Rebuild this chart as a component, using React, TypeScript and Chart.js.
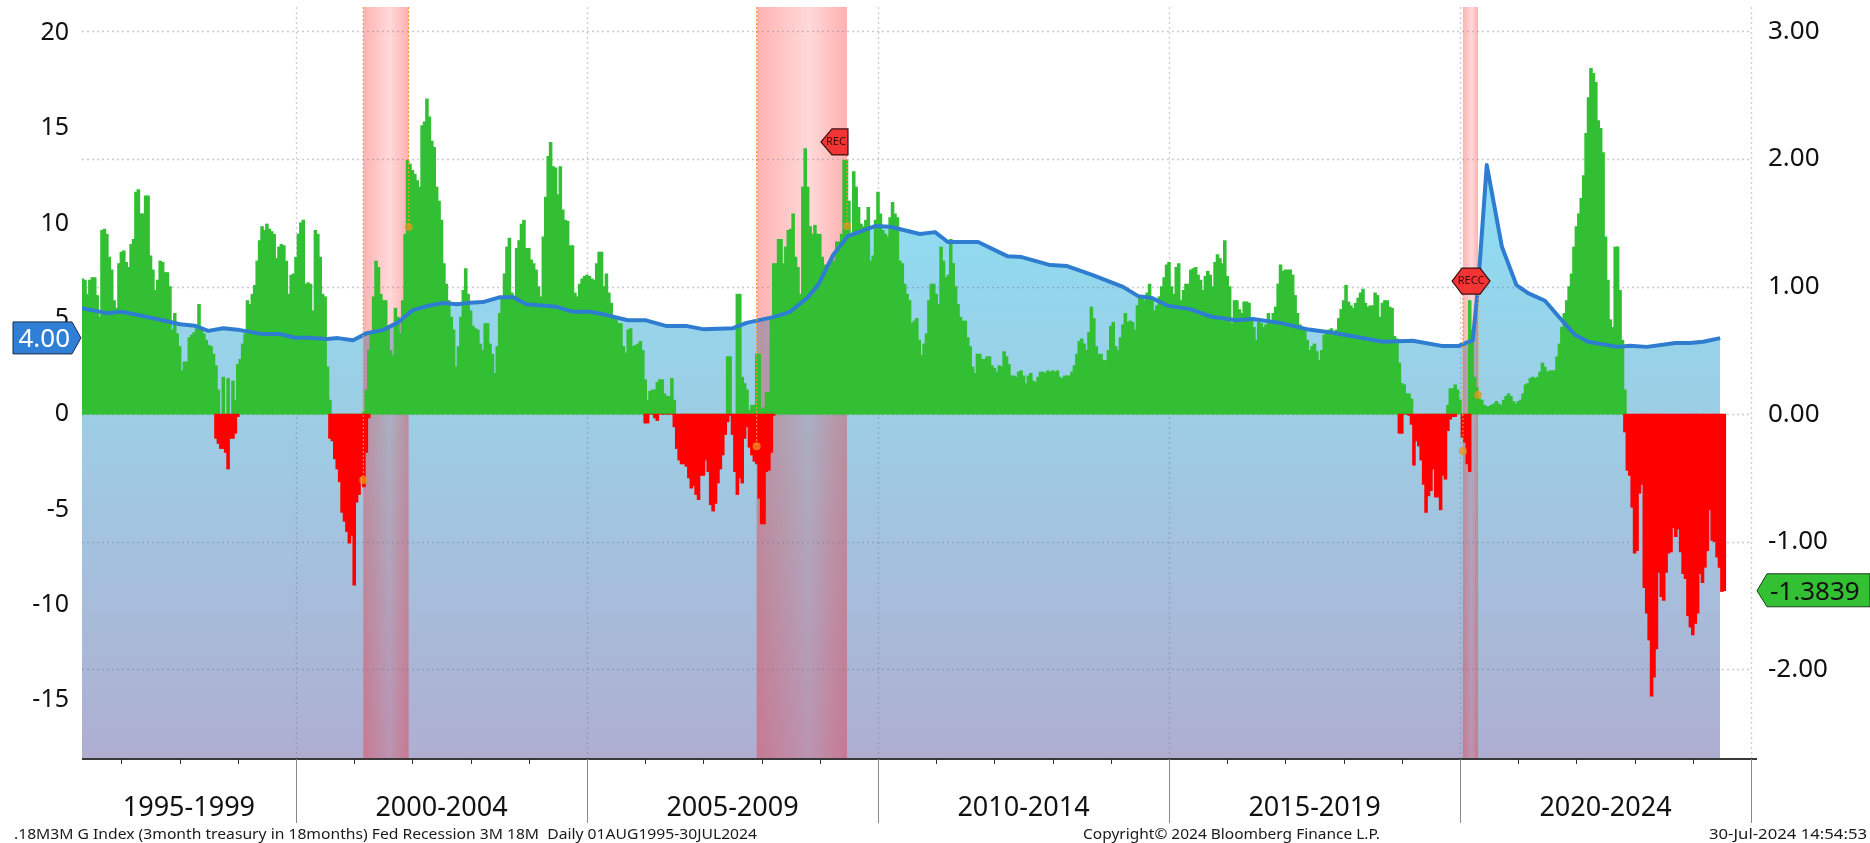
import React, { useEffect, useRef } from "react";
import { Chart, registerables } from "chart.js";

Chart.register(...registerables);

// ---------- half-monthly readings, right axis ----------
const firstPeriod = 1996 + 4 / 12;
const periodsPerYear = 24;
const positive1996 = [1.06, 1.05, 0.94, 1.05, 1.07, 1.07, 0.93, 0.76, 1.44, 1.45, 1.41, 1.23, 1.13, 0.89, 0.83, 1.18];
const positive1997 = [1.27, 1.28, 1.19, 1.15, 1.33, 1.37, 1.74, 1.76, 1.57, 1.57, 1.71, 1.71, 1.24, 1.13, 0.97, 1.05, 1.2, 1.19, 1.11, 1.11, 1.0, 0.66, 0.79, 0.63];
const positive1998 = [0.53, 0.34, 0.41, 0.41, 0.6, 0.62, 0.64, 0.67, 0.86, 0.67, 0.63, 0.58, 0.54, 0.53, 0.47, 0.38, 0.19, 0, 0.29, 0, 0.28, 0, 0.26, 0.11];
const positive1999 = [0.39, 0.43, 0.55, 0.63, 0.89, 0.86, 0.94, 1.01, 1.2, 1.36, 1.47, 1.44, 1.49, 1.45, 1.43, 1.41, 1.22, 1.31, 1.33, 1.32, 1.2, 0.94, 1.09, 1.1];
const positive2000 = [1.23, 1.41, 1.5, 1.52, 1.02, 1.03, 1.02, 0.81, 1.44, 1.41, 1.23, 0.94, 0.92, 0.37, 0.11, 0, 0, 0, 0, 0, 0, 0, 0, 0];
const positive2001 = [0, 0, 0, 0, 0.02, 0.19, 0.5, 0.63, 0.92, 1.2, 1.15, 0.94, 0.89, 0.89, 0.68, 0.5, 0.46, 0.83, 0.76, 0.63, 0.89, 1.41, 1.99, 1.96];
const positive2002 = [1.91, 1.88, 1.83, 1.78, 2.26, 2.29, 2.47, 2.33, 2.14, 2.09, 1.78, 1.67, 1.52, 1.18, 1.02, 0.89, 0.76, 0.66, 0.37, 0.53, 0.76, 0.97, 1.14, 0.94];
const positive2003 = [0.81, 0.69, 0.67, 0.66, 0.55, 0.5, 0.71, 0.71, 0.55, 0.47, 0.32, 0.53, 0.79, 0.92, 1.1, 1.31, 1.38, 0.95, 0.92, 1.3, 1.36, 1.49, 1.52, 1.3];
const positive2004 = [1.3, 1.21, 1.18, 1.13, 1.0, 0.92, 1.39, 1.7, 2.02, 2.13, 1.94, 1.93, 1.72, 1.94, 1.6, 1.52, 1.51, 1.32, 1.32, 0.95, 0.92, 1.02, 1.06, 1.08];
const positive2005 = [1.09, 1.08, 1.06, 1.05, 1.18, 1.27, 1.27, 1.0, 1.1, 0.95, 0.87, 0.76, 0.74, 0.71, 0.71, 0.53, 0.48, 0.66, 0.67, 0.53, 0.54, 0.55, 0.57, 0.5];
const positive2006 = [0.27, 0.11, 0.18, 0.19, 0.19, 0.25, 0.27, 0.27, 0.16, 0.14, 0.14, 0.28, 0.11, 0, 0, 0, 0, 0, 0, 0, 0, 0, 0, 0];
const positive2007 = [0, 0, 0, 0, 0, 0, 0, 0, 0, 0, 0.45, 0.45, 0, 0, 0.94, 0.94, 0.29, 0.24, 0.19, 0.03, 0.07, 0.07, 0.47, 0.47];
const positive2008 = [0.04, 0.05, 0.17, 0.17, 0.76, 1.18, 1.18, 1.37, 1.37, 1.18, 1.31, 1.44, 1.45, 1.57, 1.23, 1.15, 0.94, 1.78, 2.08, 1.78, 1.47, 1.41, 1.48, 1.41];
const positive2009 = [1.41, 1.23, 1.17, 1.15, 1.15, 1.2, 1.2, 1.35, 1.35, 1.41, 1.99, 1.99, 1.67, 1.41, 1.9, 1.78, 1.62, 1.49, 1.47, 1.52, 1.62, 1.2, 1.24, 1.52];
const positive2010 = [1.74, 1.57, 1.44, 1.41, 1.39, 1.54, 1.66, 1.57, 1.54, 1.2, 1.18, 1.02, 0.94, 0.89, 0.71, 0.73, 0.75, 0.58, 0.46, 0.55, 0.63, 0.89, 1.02, 1.02];
const positive2011 = [0.94, 0.86, 1.31, 1.2, 1.07, 1.09, 1.37, 1.18, 1.0, 0.86, 0.76, 0.73, 0.73, 0.6, 0.53, 0.37, 0.32, 0.47, 0.47, 0.43, 0.43, 0.45, 0.45, 0.38];
const positive2012 = [0.36, 0.33, 0.38, 0.37, 0.49, 0.45, 0.39, 0.3, 0.3, 0.29, 0.33, 0.34, 0.3, 0.24, 0.3, 0.32, 0.26, 0.25, 0.29, 0.33, 0.33, 0.32, 0.34, 0.33];
const positive2013 = [0.34, 0.33, 0.34, 0.29, 0.28, 0.3, 0.3, 0.3, 0.33, 0.38, 0.47, 0.57, 0.59, 0.55, 0.5, 0.64, 0.84, 0.75, 0.53, 0.47, 0.47, 0.42, 0.42, 0.5];
const positive2014 = [0.69, 0.72, 0.53, 0.5, 0.6, 0.7, 0.79, 0.72, 0.73, 0.72, 0.66, 0.85, 0.93, 0.9, 0.89, 0.95, 1.02, 0.9, 0.81, 0.85, 0.92, 1.0, 1.07, 1.17];
const positive2015 = [1.19, 1.0, 0.94, 1.15, 1.18, 0.89, 0.97, 1.02, 1.02, 1.13, 1.14, 1.15, 1.09, 1.05, 0.97, 1.08, 1.12, 1.09, 1.0, 1.19, 1.25, 1.22, 1.18, 1.36];
const positive2016 = [1.08, 1.0, 0.71, 0.89, 0.89, 0.82, 0.79, 0.88, 0.88, 0.87, 0.75, 0.68, 0.58, 0.72, 0.71, 0.68, 0.7, 0.79, 0.71, 0.79, 0.84, 1.02, 1.17, 1.12];
const positive2017 = [1.13, 1.13, 1.13, 1.09, 0.93, 0.79, 0.7, 0.68, 0.68, 0.58, 0.5, 0.53, 0.55, 0.49, 0.42, 0.5, 0.62, 0.65, 0.66, 0.67, 0.62, 0.66, 0.75, 0.82];
const positive2018 = [0.89, 1.01, 0.88, 0.85, 0.83, 0.87, 0.91, 0.95, 0.98, 0.87, 0.84, 0.85, 0.85, 0.95, 0.93, 0.76, 0.87, 0.89, 0.89, 0.84, 0.83, 0.61, 0.59, 0.4];
const positive2019 = [0.24, 0.23, 0.16, 0.16, 0.12, 0, 0, 0, 0, 0, 0, 0, 0, 0, 0, 0, 0, 0, 0, 0.07, 0.2, 0.2, 0.23, 0.19];
const positive2020 = [0.11, 0, 0, 0, 0.89, 0.66, 0.29, 0.21, 0.12, 0.11, 0.07, 0.06, 0.06, 0.07, 0.08, 0.1, 0.08, 0.07, 0.11, 0.14, 0.16, 0.14, 0.1, 0.08];
const positive2021 = [0.1, 0.11, 0.16, 0.23, 0.24, 0.28, 0.29, 0.28, 0.29, 0.33, 0.4, 0.37, 0.33, 0.34, 0.34, 0.34, 0.45, 0.55, 0.68, 0.79, 0.89, 1.0, 1.1, 1.31];
const positive2022 = [1.47, 1.57, 1.69, 1.87, 2.2, 2.48, 2.71, 2.67, 2.6, 2.3, 2.24, 2.05, 1.39, 1.05, 0.74, 0.68, 1.31, 1.31, 0.97, 0.58, 0.19];

// each stretch of negative readings: index of its first half-month, then the readings
const negative1998 = [-0.19, -0.23, -0.27, -0.27, -0.3, -0.43, -0.19, -0.19, -0.15, -0.02];
const negative2000 = [-0.19, -0.21, -0.35, -0.43, -0.53, -0.77, -0.84, -0.92, -1.01, -0.95, -1.34, -0.69, -0.63, -0.49, -0.57, -0.3, -0.03];
const negative2006 = [-0.07, -0.07, 0, 0, -0.03, -0.05, 0, 0, 0, 0, 0, 0, -0.1, -0.27, -0.36, -0.39, -0.39, -0.41, -0.5, -0.58, -0.56, -0.63, -0.67, -0.48];
const negative2007 = [-0.48, -0.36, -0.45, -0.71, -0.76, -0.7, -0.54, -0.43, -0.32, -0.16, -0.06, -0.01, -0.16, -0.45, -0.63, -0.5, -0.54, -0.19, -0.1, -0.26, -0.32, -0.37, -0.39, -0.66];
const negative2008 = [-0.86, -0.86, -0.45, -0.44, -0.3, -0.01];
const negative2019 = [-0.15, -0.15, 0, 0, -0.01, -0.08, -0.4, -0.21, -0.25, -0.36, -0.55, -0.77, -0.64, -0.6, -0.43, -0.65, -0.65, -0.75, -0.48, -0.51, -0.13, -0.04, -0.02, -0.02];
const negative2020 = [-0.18, -0.22, -0.39, -0.45];
const negative2022 = [-0.14, -0.44, -0.48, -0.73];
const negative2023 = [-1.09, -1.07, -0.62, -0.55, -1.36, -1.56, -1.77, -2.21, -2.06, -1.84, -1.24, -1.43, -1.46, -1.24, -1.09, -1.08, -0.89, -0.96, -0.9, -1.08, -1.25, -1.29, -1.58, -1.67];
const negative2024 = [-1.73, -1.64, -1.56, -1.25, -1.32, -1.2, -1.07, -0.75, -0.99, -1.0, -1.12, -1.2, -1.39, -1.3839];

const negativeStretches: [number, number[]][] = [
  [55, negative1998], [102, negative2000], [232, negative2006], [256, negative2007],
  [280, negative2008], [543, negative2019], [569, negative2020], [636, negative2022],
  [640, negative2023], [664, negative2024],
];

const positivePeriods = [
  ...positive1996, ...positive1997, ...positive1998, ...positive1999, ...positive2000,
  ...positive2001, ...positive2002, ...positive2003, ...positive2004, ...positive2005,
  ...positive2006, ...positive2007, ...positive2008, ...positive2009, ...positive2010,
  ...positive2011, ...positive2012, ...positive2013, ...positive2014, ...positive2015,
  ...positive2016, ...positive2017, ...positive2018, ...positive2019, ...positive2020,
  ...positive2021, ...positive2022,
];

// ---------- blue line, left axis ----------
const lineYears = [
  1996.32, 1996.75, 1997.01, 1997.61, 1998.01, 1998.26, 1998.49, 1998.75, 1999.04, 1999.43, 1999.73,
  1999.98, 2000.21, 2000.53, 2000.72, 2000.98, 2001.22, 2001.49, 2001.74, 2002.01, 2002.25, 2002.53,
  2002.77, 2002.99, 2003.21, 2003.51, 2003.73, 2003.96, 2004.48, 2004.76, 2005.05, 2005.27, 2005.7,
  2006.0, 2006.37, 2006.72, 2006.99, 2007.51, 2007.74, 2008.2, 2008.49, 2008.78, 2008.97, 2009.23,
  2009.48, 2009.69, 2009.95, 2010.21, 2010.72, 2010.98, 2011.2, 2011.72, 2012.22, 2012.47, 2012.96,
  2013.25, 2013.69, 2014.21, 2014.47, 2014.71, 2014.98, 2015.36, 2015.73, 2016.16, 2016.44, 2016.91,
  2017.37, 2017.82, 2018.68, 2019.19, 2019.71, 2019.97, 2020.22, 2020.31, 2020.46, 2020.72, 2020.97,
  2021.17, 2021.46, 2021.75, 2021.98, 2022.2, 2022.71, 2022.92, 2023.21, 2023.7, 2023.95, 2024.18, 2024.47,
];
const lineValues = [
  5.56, 5.3, 5.37, 4.99, 4.72, 4.64, 4.37, 4.51, 4.41, 4.2, 4.2,
  4.01, 4.01, 3.94, 3.99, 3.88, 4.25, 4.41, 4.79, 5.46, 5.67, 5.83,
  5.77, 5.84, 5.88, 6.14, 6.14, 5.77, 5.63, 5.37, 5.37, 5.25, 4.93,
  4.93, 4.62, 4.62, 4.46, 4.51, 4.79, 5.09, 5.37, 6.09, 6.77, 8.35,
  9.34, 9.57, 9.87, 9.83, 9.45, 9.55, 9.03, 9.03, 8.29, 8.24, 7.82,
  7.77, 7.3, 6.68, 6.19, 6.09, 5.69, 5.51, 5.11, 4.93, 4.99, 4.79,
  4.46, 4.27, 3.8, 3.85, 3.57, 3.57, 3.88, 6.68, 13.07, 8.78, 6.77,
  6.35, 5.95, 4.93, 4.15, 3.8, 3.53, 3.59, 3.53, 3.73, 3.73, 3.8, 3.99,
];

// ---------- recessions and signals ----------
const recessionStarts = [2001.157, 2007.915, 2020.05];
const recessionEnds = [2001.935, 2009.467, 2020.31];
const signalYears = [2001.157, 2001.935, 2007.915, 2009.467, 2020.05, 2020.31];
const signalValues = [-3.46, 9.82, -1.68, 9.87, -1.94, 1.0];
const signalFrom = [21.36, 21.36, 21.36, 13.6, 6.3, 6.3];

// ---------- axes and text ----------
const periodLabels = ["1995-1999", "2000-2004", "2005-2009", "2010-2014", "2015-2019", "2020-2024"];
const periodCentres = [1998.16, 2002.5, 2007.5, 2012.5, 2017.5, 2022.5];
const periodEdges = [2000, 2005, 2010, 2015, 2020, 2025];
const yearMarks = [1997, 1998, 1999, 2001, 2002, 2003, 2004, 2006, 2007, 2008, 2009, 2011, 2012, 2013, 2014, 2016, 2017, 2018, 2019, 2021, 2022, 2023, 2024];
const leftTickStep = 5;
const rightTickStep = 1;
const leftLabel = "4.00";
const leftLabelValue = 4;
const rightLabel = "-1.3839";
const rightLabelValue = -1.3839;
const footerLeft = ".18M3M G Index (3month treasury in 18months) Fed Recession 3M 18M  Daily 01AUG1995-30JUL2024";
const footerCentre = "Copyright\u00A9 2024 Bloomberg Finance L.P.";
const footerRight = "30-Jul-2024 14:54:53";

const periodX = (j: number) => firstPeriod + j / periodsPerYear;
const FONT = '"Noto Sans"';

const negativePeriods = new Map<number, number>();
negativeStretches.forEach(([start, vals]) => vals.forEach((v, i) => negativePeriods.set(start + i, v)));

const overlay = {
  id: "bloombergOverlay",
  beforeDatasetDraw(chart: any, args: any) {
    if (args.index !== 1) return;
    const { ctx, chartArea: a, scales } = chart;
    const x = scales.x;
    ctx.save();
    // recession bands
    recessionStarts.forEach((s, i) => {
      const l = x.getPixelForValue(s);
      const r = x.getPixelForValue(recessionEnds[i]);
      const g = ctx.createLinearGradient(l, 0, r, 0);
      g.addColorStop(0, "rgba(255,0,0,0.30)");
      g.addColorStop(0.58, "rgba(255,0,0,0.15)");
      g.addColorStop(1, "rgba(255,0,0,0.31)");
      ctx.fillStyle = g;
      ctx.fillRect(l, a.top, r - l, a.bottom - a.top);
    });
    // dotted grid
    ctx.strokeStyle = "rgba(110,110,150,0.36)";
    ctx.lineWidth = 1.3;
    ctx.setLineDash([2, 3]);
    periodEdges.forEach((e) => {
      const p = Math.round(x.getPixelForValue(e)) + 0.5;
      ctx.beginPath();
      ctx.moveTo(p, a.top);
      ctx.lineTo(p, a.bottom);
      ctx.stroke();
    });
    scales.yRight.ticks.forEach((t: any) => {
      const p = Math.round(scales.yRight.getPixelForValue(t.value)) + 0.5;
      ctx.beginPath();
      ctx.moveTo(a.left, p);
      ctx.lineTo(x.getPixelForValue(2025), p);
      ctx.stroke();
    });
    ctx.restore();
  },
  afterDatasetsDraw(chart: any) {
    const { ctx, scales } = chart;
    const x = scales.x;
    const yL = scales.yLeft;
    ctx.save();
    ctx.strokeStyle = "rgba(245,150,40,0.9)";
    ctx.lineWidth = 1.2;
    ctx.setLineDash([2, 2]);
    signalYears.forEach((s, i) => {
      const p = x.getPixelForValue(s);
      ctx.beginPath();
      ctx.moveTo(p, yL.getPixelForValue(signalFrom[i]));
      ctx.lineTo(p, yL.getPixelForValue(signalValues[i]));
      ctx.stroke();
    });
    ctx.restore();
  },
  afterDraw(chart: any) {
    const { ctx, chartArea: a, scales } = chart;
    const x = scales.x;
    const yL = scales.yLeft;
    const yR = scales.yRight;
    ctx.save();
    // x axis base
    ctx.strokeStyle = "#3a3a3a";
    ctx.lineWidth = 2;
    ctx.beginPath();
    ctx.moveTo(a.left, a.bottom);
    ctx.lineTo(a.right, a.bottom);
    ctx.stroke();
    ctx.lineWidth = 1;
    ctx.strokeStyle = "#333";
    yearMarks.forEach((yr) => {
      const p = Math.round(x.getPixelForValue(yr)) + 0.5;
      ctx.beginPath();
      ctx.moveTo(p, a.bottom);
      ctx.lineTo(p, a.bottom + 5);
      ctx.stroke();
    });
    ctx.strokeStyle = "#8a8a8a";
    periodEdges.forEach((e) => {
      const p = Math.round(x.getPixelForValue(e)) + 0.5;
      ctx.beginPath();
      ctx.moveTo(p, a.bottom);
      ctx.lineTo(p, a.bottom + 64);
      ctx.stroke();
    });

    // REC tags
    const tag = (pts: number[][], text: string, tx: number, ty: number) => {
      ctx.beginPath();
      pts.forEach(([px, py], i) => (i ? ctx.lineTo(px, py) : ctx.moveTo(px, py)));
      ctx.closePath();
      ctx.fillStyle = "#f23434";
      ctx.fill();
      ctx.strokeStyle = "#3a1010";
      ctx.lineWidth = 1.2;
      ctx.stroke();
      ctx.fillStyle = "#3c0c0c";
      ctx.font = `11px ${FONT}`;
      ctx.textAlign = "center";
      ctx.textBaseline = "middle";
      ctx.fillText(text, tx, ty);
    };
    const rx = x.getPixelForValue(recessionEnds[1]);
    const ry = yL.getPixelForValue(14.28);
    tag([[rx - 26, ry], [rx - 15, ry - 13], [rx + 1, ry - 13], [rx + 1, ry + 13], [rx - 15, ry + 13]], "REC", rx - 11, ry);
    const cx = x.getPixelForValue(2020.19);
    const cy = yL.getPixelForValue(6.98);
    tag([[cx - 19, cy], [cx - 9, cy - 13], [cx + 9, cy - 13], [cx + 19, cy], [cx + 9, cy + 13], [cx - 9, cy + 13]], "RECC", cx, cy);

    // value tags
    const ly = yL.getPixelForValue(leftLabelValue);
    ctx.beginPath();
    ctx.moveTo(13, ly - 16);
    ctx.lineTo(72, ly - 16);
    ctx.lineTo(81, ly);
    ctx.lineTo(72, ly + 16);
    ctx.lineTo(13, ly + 16);
    ctx.closePath();
    ctx.fillStyle = "#2f7fd6";
    ctx.fill();
    ctx.strokeStyle = "#1c2c44";
    ctx.lineWidth = 1;
    ctx.stroke();
    ctx.fillStyle = "#ffffff";
    ctx.font = `26px ${FONT}`;
    ctx.textAlign = "right";
    ctx.textBaseline = "middle";
    ctx.fillText(leftLabel, 70, ly + 2);

    const ry2 = yR.getPixelForValue(rightLabelValue);
    ctx.beginPath();
    ctx.moveTo(1757, ry2);
    ctx.lineTo(1767, ry2 - 17);
    ctx.lineTo(1870, ry2 - 17);
    ctx.lineTo(1870, ry2 + 16);
    ctx.lineTo(1767, ry2 + 16);
    ctx.closePath();
    ctx.fillStyle = "#33c033";
    ctx.fill();
    ctx.strokeStyle = "#1c3c1c";
    ctx.stroke();
    ctx.fillStyle = "#111";
    ctx.textAlign = "left";
    ctx.fillText(rightLabel, 1770, ry2 + 2);

    // footer
    ctx.fillStyle = "#1a1a1a";
    ctx.font = `14.5px ${FONT}`;
    ctx.textBaseline = "middle";
    const fit = (t: string, left: number, right: number) => {
      const w = ctx.measureText(t).width;
      ctx.save();
      ctx.translate(left, 835);
      ctx.scale((right - left) / w, 1);
      ctx.textAlign = "left";
      ctx.fillText(t, 0, 0);
      ctx.restore();
    };
    fit(footerLeft, 14, 757);
    fit(footerCentre, 1083, 1380);
    fit(footerRight, 1709, 1867);
    ctx.restore();
  },
};

const noPadding = (s: any) => {
  s.paddingTop = 0;
  s.paddingBottom = 0;
  s.paddingLeft = 0;
  s.paddingRight = 0;
};

export default function App() {
  const ref = useRef<HTMLCanvasElement>(null);
  useEffect(() => {
    if (!ref.current) return;
    const areaFill = (c: any) => {
      const { chart } = c;
      if (!chart.chartArea) return "#9ccee5";
      const yL = chart.scales.yLeft;
      const top = yL.getPixelForValue(13.07);
      const mid = yL.getPixelForValue(0);
      const bot = chart.chartArea.bottom;
      const g = chart.ctx.createLinearGradient(0, top, 0, bot);
      g.addColorStop(0, "#8cdff3");
      g.addColorStop((mid - top) / (bot - top), "#9ccee5");
      g.addColorStop(1, "#afaed1");
      return g;
    };
    const linePts = lineYears.map((x, i) => ({ x, y: lineValues[i] }));
    const chart = new Chart(ref.current, {
      data: {
        datasets: [
          {
            type: "line",
            label: "Fed funds area",
            data: linePts,
            yAxisID: "yLeft",
            xAxisID: "x",
            fill: "start",
            backgroundColor: areaFill,
            borderWidth: 0,
            pointRadius: 0,
            order: 4,
          },
          {
            type: "bar",
            label: ".18M3M G Index positive",
            data: positivePeriods.map((y, j) => ({ x: periodX(j), y })),
            yAxisID: "yRight",
            xAxisID: "x",
            backgroundColor: "#33bf33",
            barThickness: 2.9,
            grouped: false,
            borderWidth: 0,
            order: 3,
          },
          {
            type: "bar",
            label: ".18M3M G Index negative",
            data: Array.from(negativePeriods.entries()).map(([j, y]) => ({ x: periodX(j), y })),
            yAxisID: "yRight",
            xAxisID: "x",
            backgroundColor: "#ff0000",
            barThickness: 2.9,
            grouped: false,
            borderWidth: 0,
            order: 2,
          },
          {
            type: "line",
            label: "Fed funds",
            data: linePts,
            yAxisID: "yLeft",
            xAxisID: "x",
            fill: false,
            borderColor: "#2f7dd0",
            borderWidth: 4,
            pointRadius: 0,
            tension: 0,
            borderJoinStyle: "round",
            order: 1,
          },
          {
            type: "line",
            label: "Recession signal",
            data: signalYears.map((x, i) => ({ x, y: signalValues[i] })),
            yAxisID: "yLeft",
            xAxisID: "x",
            showLine: false,
            pointRadius: 4,
            pointBackgroundColor: "rgba(232,150,30,0.75)",
            pointBorderWidth: 0,
            order: 0,
          },
        ],
      } as any,
      options: {
        responsive: false,
        animation: false,
        layout: { autoPadding: false, padding: { top: 7, left: 0, right: 0, bottom: 0 } },
        plugins: { legend: { display: false }, tooltip: { enabled: false }, title: { display: false } },
        scales: {
          x: {
            type: "linear",
            position: "bottom",
            min: 1996.323,
            max: 2025.103,
            offset: false,
            grid: { display: false, drawTicks: false },
            border: { display: false },
            afterBuildTicks: (s: any) => {
              s.ticks = periodCentres.map((value) => ({ value }));
            },
            afterFit: (s: any) => {
              s.height = 84;
              noPadding(s);
            },
            ticks: {
              autoSkip: false,
              maxRotation: 0,
              padding: 33,
              color: "#111",
              font: { family: FONT, size: 27 },
              callback: (v: any) => periodLabels[periodCentres.indexOf(v)] ?? "",
            },
          },
          yLeft: {
            axis: "y",
            type: "linear",
            position: "left",
            min: -18.09,
            max: 21.36,
            grid: { display: false, drawTicks: false },
            border: { display: false },
            afterFit: (s: any) => {
              s.width = 82;
              noPadding(s);
            },
            ticks: {
              stepSize: leftTickStep,
              includeBounds: false,
              padding: 13,
              color: "#111",
              font: { family: FONT, size: 25 },
            },
          },
          yRight: {
            axis: "y",
            type: "linear",
            position: "right",
            min: -2.702,
            max: 3.19,
            grid: { display: false, drawTicks: false },
            border: { display: false },
            afterFit: (s: any) => {
              s.width = 113;
              noPadding(s);
            },
            ticks: {
              stepSize: rightTickStep,
              includeBounds: false,
              padding: 11,
              color: "#111",
              font: { family: FONT, size: 26 },
              callback: (v: any) => Number(v).toFixed(2),
            },
          },
        },
      } as any,
      plugins: [overlay],
    });
    return () => chart.destroy();
  }, []);
  return (
    <div style={{ position: "fixed", left: 0, top: 0, width: 1870, height: 843, background: "#fff" }}>
      <canvas ref={ref} width={1870} height={843} style={{ display: "block", width: 1870, height: 843 }} />
    </div>
  );
}
